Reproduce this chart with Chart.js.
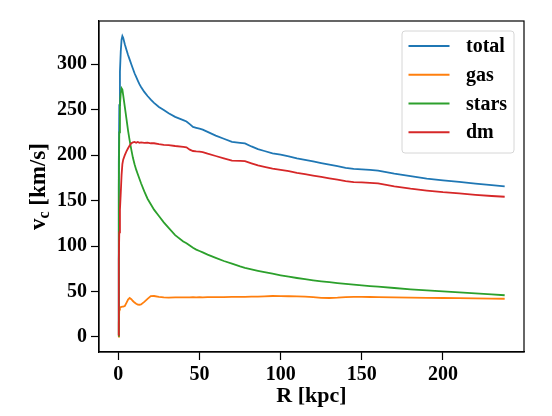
<!DOCTYPE html>
<html>
<head>
<meta charset="utf-8">
<script src="https://cdn.jsdelivr.net/npm/chart.js@4/dist/chart.umd.min.js"></script>
<style>
  html, body { margin: 0; padding: 0; background: #ffffff; }
  #wrap { width: 552px; height: 416px; }
</style>
</head>
<body>
<div id="wrap"><canvas id="c" width="552" height="416"></canvas></div>
<script>
// ---- data ----
const R = [0, 0.3, 0.6, 1, 1.5, 2, 2.5, 3, 4, 5, 6, 7, 8, 9, 10, 11, 12, 13, 14, 16, 18, 20, 22, 25, 28, 31, 35, 40, 42, 44, 46, 48, 50, 52, 55, 60, 65, 70, 75, 78, 82, 86, 90, 95, 100, 105, 110, 115, 120, 125, 130, 135, 140, 145, 150, 155, 160, 170, 180, 190, 200, 210, 220, 230, 238];

const total = [2, 190, 255, 292, 314, 327, 331, 329, 322, 316, 310, 305, 300, 295, 290, 286, 282, 278, 275, 269.5, 265, 261, 257.5, 253, 249.5, 246, 242, 238.5, 237, 234, 231, 230, 229, 228, 225.5, 221.5, 218, 214.5, 213.5, 212.8, 209.5, 206.5, 204.5, 202, 200.5, 198.5, 196.5, 194.8, 193, 191.2, 189.5, 187.8, 186, 184.8, 184.3, 183.7, 182.8, 179.5, 176.8, 174.2, 172.3, 170.5, 168.6, 167, 165.6];

const gas = [0, 15, 30, 32.5, 32.8, 33, 33.2, 33.4, 34, 37.5, 41, 42.8, 41.5, 39.5, 37.8, 36.5, 35.6, 35.4, 35.8, 38.5, 41.8, 44.8, 45, 44, 43.5, 43.3, 43.4, 43.5, 43.5, 43.4, 43.6, 43.5, 43.6, 43.5, 43.7, 43.8, 43.8, 44, 44, 44.1, 44.3, 44.4, 44.6, 45, 44.9, 44.7, 44.6, 44.4, 43.8, 43, 42.8, 43.2, 43.8, 44, 44, 43.9, 43.8, 43.5, 43.3, 43, 42.8, 42.6, 42.4, 42.2, 42];

const stars = [1, 165, 225, 255, 268, 273.5, 272, 266, 253, 240, 227, 216, 206, 197, 190, 184, 179, 174, 169, 160, 152, 146, 140, 133, 126, 120, 112, 105, 103, 100.5, 98, 96, 94.5, 93, 90.5, 87, 83.5, 80.5, 77.5, 76, 74.3, 72.7, 71.2, 69.5, 67.8, 66.2, 64.8, 63.5, 62.3, 61.2, 60.2, 59.2, 58.3, 57.5, 56.7, 55.9, 55.2, 53.8, 52.4, 51.2, 50, 48.9, 47.8, 46.7, 45.8];

const dm = [2, 85, 115, 140, 158, 178, 190, 195, 200, 204, 207.5, 210.5, 213, 214, 214.5, 213.5, 214.5, 213.5, 214, 213.5, 213.8, 213, 213, 212, 211.3, 211, 210, 209, 208.5, 206, 204.5, 204, 203.7, 203.3, 201.5, 199, 196.5, 194, 193.7, 193.3, 191, 188.6, 187, 185, 183.7, 182.3, 180.5, 179, 177.5, 176, 174.5, 173, 171.3, 170.2, 170, 169.5, 168.8, 165.5, 163, 161, 159.2, 157.8, 156.3, 155, 154.2];

const seriesNames = ['total', 'gas', 'stars', 'dm'];
const xTicks = [0, 50, 100, 150, 200];
const yTicks = [0, 50, 100, 150, 200, 250, 300];
const xTitle = 'R [kpc]';
const yTitleMain = 'v';
const yTitleSub = 'c';
const yTitleRest = ' [km/s]';

// ---- styles ----
const colors = ['#1f77b4', '#ff7f0e', '#2ca02c', '#d62728'];
const FONT = "'Liberation Serif', 'Times New Roman', serif";

const seriesValues = [total, gas, stars, dm];
const datasets = seriesNames.map((name, k) => ({
  label: name,
  data: R.map((r, i) => ({ x: r, y: seriesValues[k][i] })),
  borderColor: colors[k],
  backgroundColor: colors[k],
  borderWidth: 1.8,
  pointRadius: 0,
  tension: 0,
  fill: false,
  order: seriesNames.length - 1 - k
}));

const framePlugin = {
  id: 'frame',
  afterDatasetsDraw(chart) {
    const { ctx, chartArea: a } = chart;
    ctx.save();
    ctx.strokeStyle = '#000';
    ctx.lineWidth = 1.2;
    ctx.strokeRect(a.left, a.top, a.right - a.left, a.bottom - a.top);
    ctx.restore();
  },
  afterDraw(chart) {
    const { ctx, chartArea: a } = chart;
    // legend
    ctx.save();
    const bx = 402, by = 31, bw = 112, bh = 122, r = 3;
    ctx.beginPath();
    ctx.moveTo(bx + r, by);
    ctx.lineTo(bx + bw - r, by);
    ctx.arcTo(bx + bw, by, bx + bw, by + r, r);
    ctx.lineTo(bx + bw, by + bh - r);
    ctx.arcTo(bx + bw, by + bh, bx + bw - r, by + bh, r);
    ctx.lineTo(bx + r, by + bh);
    ctx.arcTo(bx, by + bh, bx, by + bh - r, r);
    ctx.lineTo(bx, by + r);
    ctx.arcTo(bx, by, bx + r, by, r);
    ctx.closePath();
    ctx.fillStyle = 'rgba(255,255,255,0.8)';
    ctx.fill();
    ctx.strokeStyle = '#d6d6d6';
    ctx.lineWidth = 1;
    ctx.stroke();
    ctx.font = 'bold 20px ' + FONT;
    ctx.textBaseline = 'middle';
    ctx.textAlign = 'left';
    chart.data.datasets.forEach((ds, i) => {
      const y = 46 + i * 28.75;
      ctx.strokeStyle = ds.borderColor;
      ctx.lineWidth = 1.8;
      ctx.beginPath();
      ctx.moveTo(408.5, y);
      ctx.lineTo(449.5, y);
      ctx.stroke();
      ctx.fillStyle = '#000';
      ctx.fillText(ds.label, 466, y + 1);
    });
    // y-axis title with subscript
    ctx.translate(38, (a.top + a.bottom) / 2);
    ctx.rotate(-Math.PI / 2);
    const bigF = 'bold 23px ' + FONT, smallF = 'bold 16px ' + FONT;
    ctx.font = bigF;
    const w1 = ctx.measureText(yTitleMain).width;
    const w3 = ctx.measureText(yTitleRest).width;
    ctx.font = smallF;
    const w2 = ctx.measureText(yTitleSub).width;
    let x0 = -(w1 + w2 + w3) / 2;
    ctx.textBaseline = 'alphabetic';
    ctx.fillStyle = '#000';
    ctx.font = bigF;
    ctx.fillText(yTitleMain, x0, 7);
    ctx.font = smallF;
    ctx.fillText(yTitleSub, x0 + w1, 11);
    ctx.font = bigF;
    ctx.fillText(yTitleRest, x0 + w1 + w2, 7);
    ctx.restore();
  }
};

new Chart(document.getElementById('c'), {
  type: 'line',
  data: { datasets },
  options: {
    responsive: false,
    devicePixelRatio: 1,
    animation: false,
    layout: { padding: { left: 0, right: 28, top: 21, bottom: 0 } },
    plugins: { legend: { display: false }, tooltip: { enabled: false } },
    scales: {
      x: {
        type: 'linear',
        min: -11.9,
        max: 249.9,
        afterBuildTicks: s => { s.ticks = xTicks.map(v => ({ value: v })); },
        afterFit: s => { s.height = 64; },
        grid: { display: true, drawOnChartArea: false, drawTicks: true, tickLength: 8, tickColor: '#000', tickWidth: 1.2 },
        border: { display: true, color: '#000', width: 1.2 },
        ticks: { color: '#000', padding: 3, maxRotation: 0, autoSkip: false, font: { family: FONT, size: 20, weight: 'bold' } },
        title: { display: true, text: xTitle, color: '#000', padding: { top: 0, bottom: 6 }, font: { family: FONT, size: 22, weight: 'bold' } }
      },
      y: {
        type: 'linear',
        min: -16.6,
        max: 347.5,
        afterBuildTicks: s => { s.ticks = yTicks.map(v => ({ value: v })); },
        afterFit: s => { s.width = 99; },
        grid: { display: true, drawOnChartArea: false, drawTicks: true, tickLength: 8, tickColor: '#000', tickWidth: 1.2 },
        border: { display: true, color: '#000', width: 1.2 },
        ticks: { color: '#000', padding: 4, autoSkip: false, font: { family: FONT, size: 20, weight: 'bold' } },
        title: { display: false }
      }
    }
  },
  plugins: [framePlugin]
});
</script>
</body>
</html>
